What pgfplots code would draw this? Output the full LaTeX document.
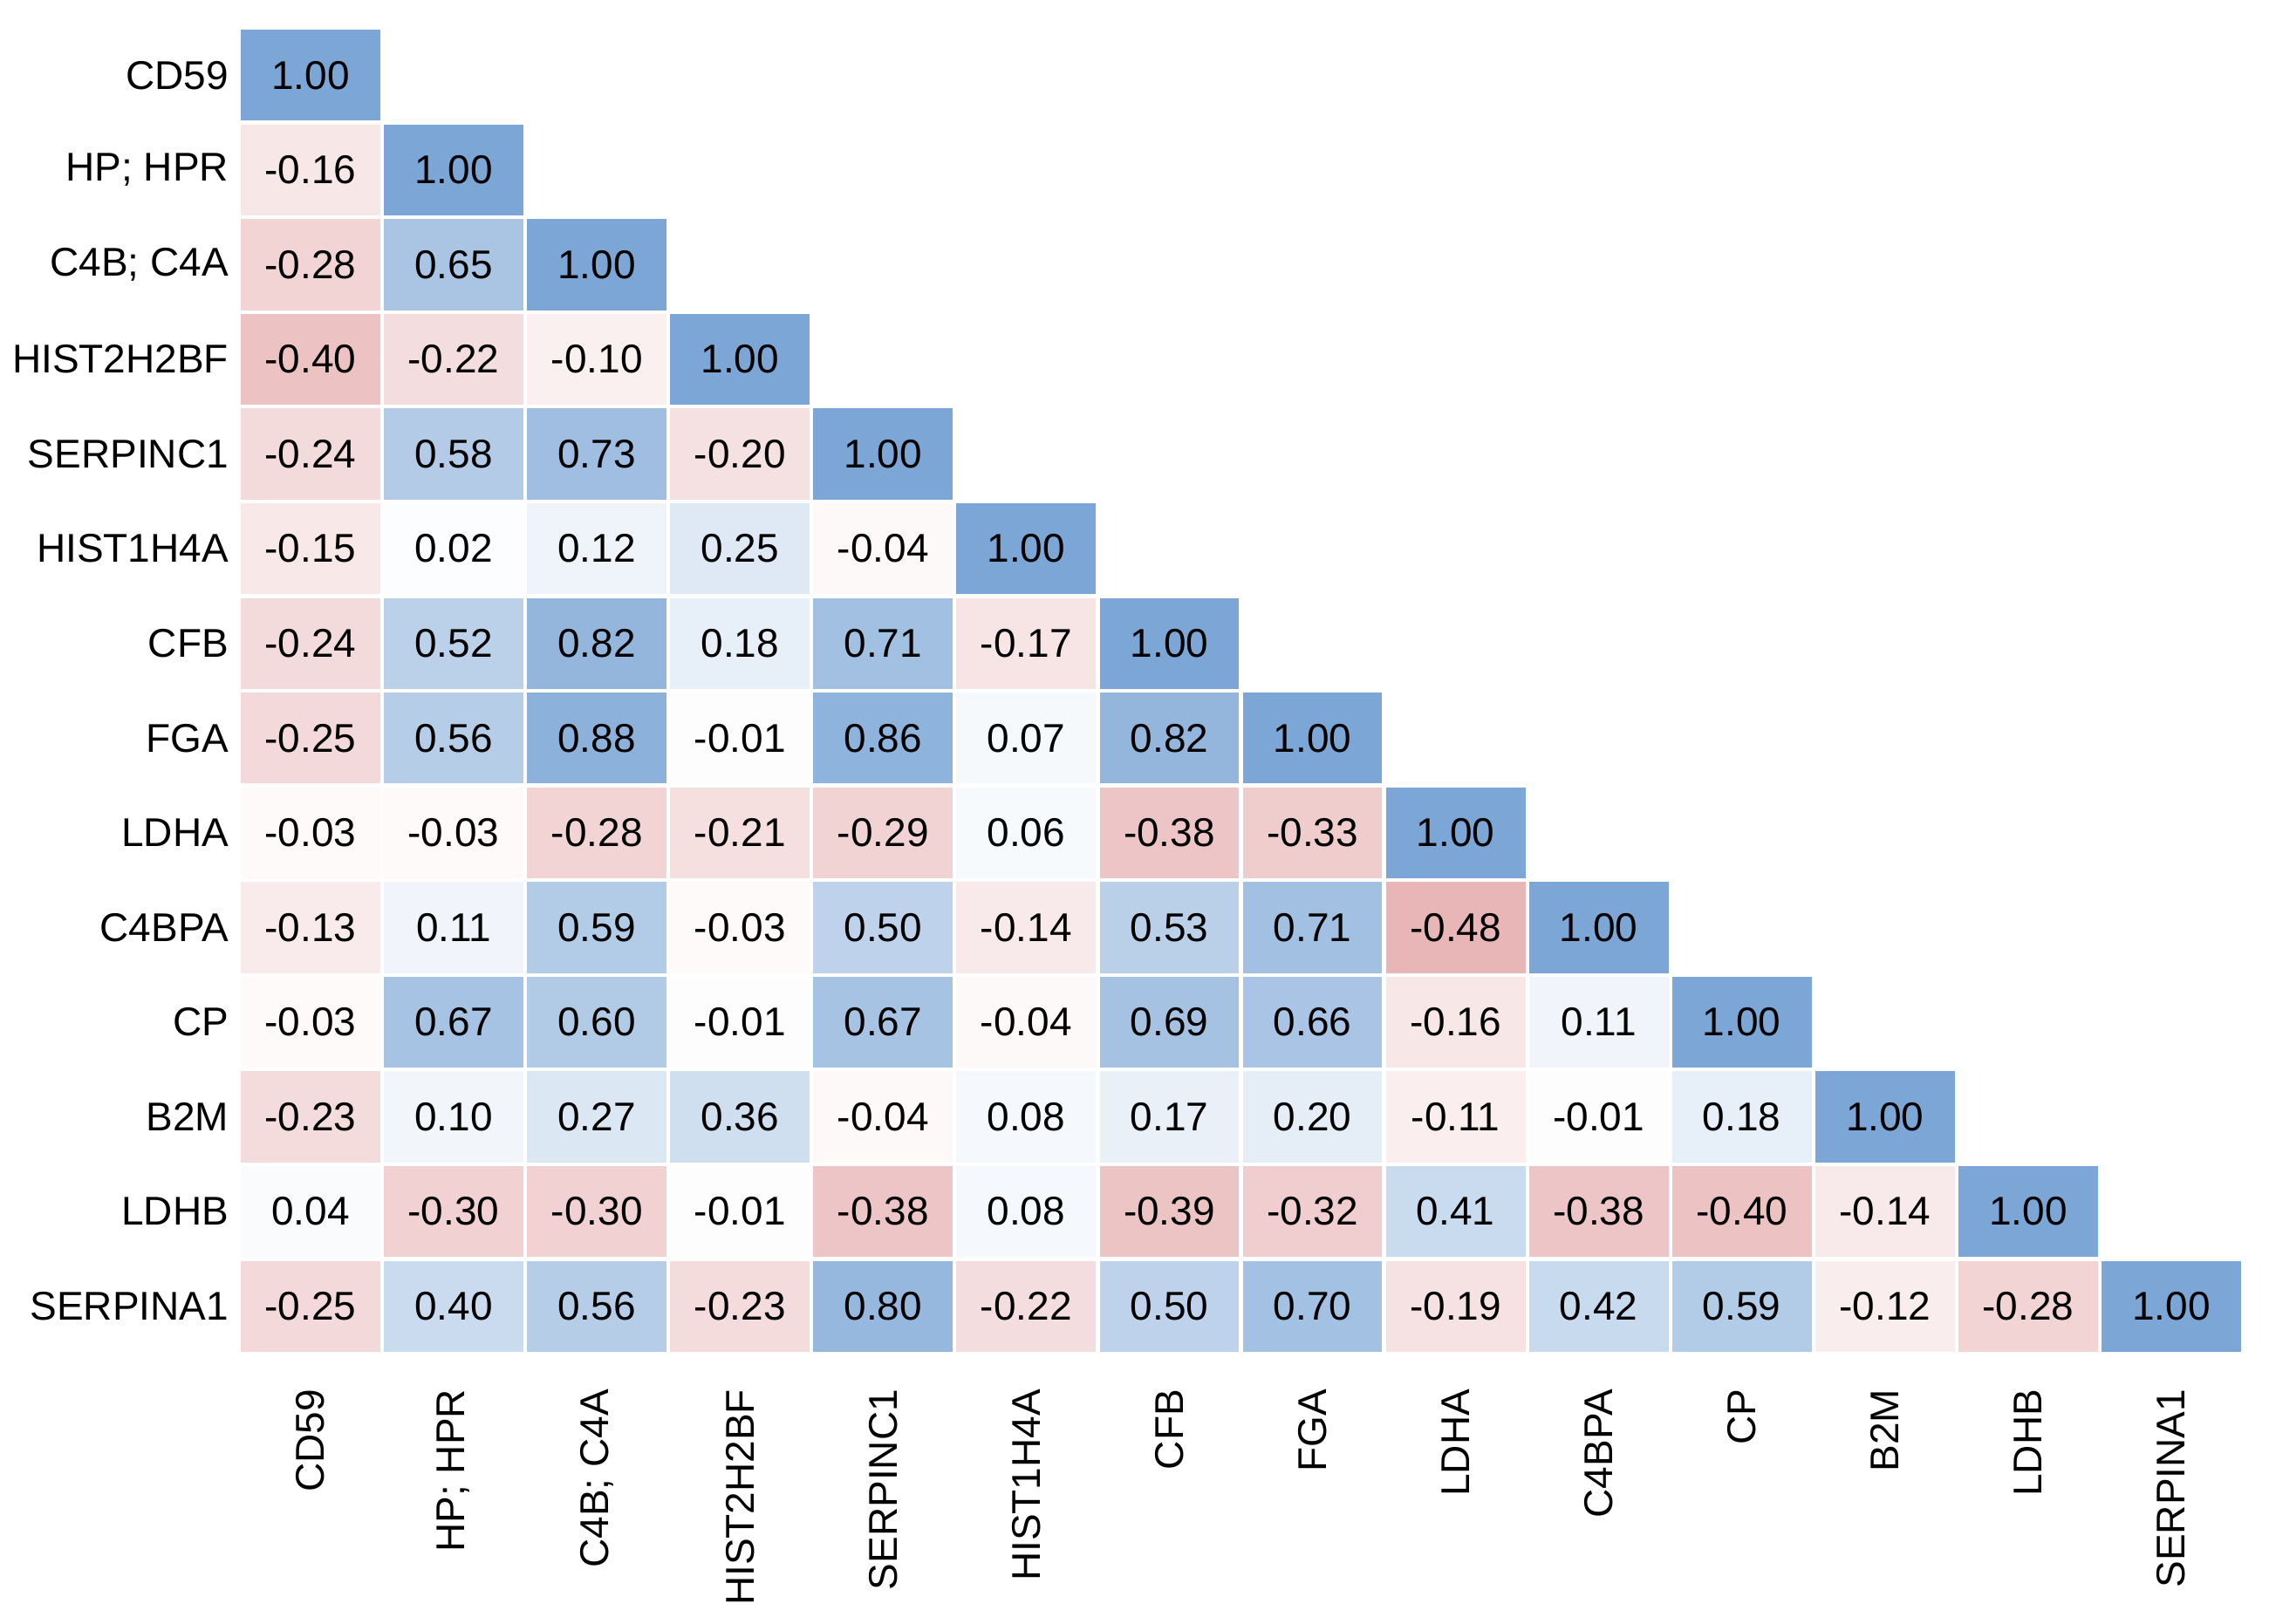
\documentclass[border=0pt]{standalone}
\usepackage{fontspec}
\setmainfont{Liberation Sans}
\usepackage{pgfplots}
\pgfplotsset{compat=1.18}
\usepackage{pgfplotstable}

% one heatmap cell, full cell size (axis 459.4pt x 304pt, 14 x 14 cells)
\pgfdeclareplotmark{cell}{%
  \pgfpathrectangle{\pgfpoint{-16.407pt}{-10.857pt}}{\pgfpoint{32.814pt}{21.714pt}}%
  \pgfusepathqfillstroke}

% lower triangle of the correlation matrix: column x, row y, value v
\pgfplotstableread[row sep=\\]{
x y v\\
0 0 1.00\\
0 1 -0.16\\ 1 1 1.00\\
0 2 -0.28\\ 1 2 0.65\\ 2 2 1.00\\
0 3 -0.40\\ 1 3 -0.22\\ 2 3 -0.10\\ 3 3 1.00\\
0 4 -0.24\\ 1 4 0.58\\ 2 4 0.73\\ 3 4 -0.20\\ 4 4 1.00\\
0 5 -0.15\\ 1 5 0.02\\ 2 5 0.12\\ 3 5 0.25\\ 4 5 -0.04\\ 5 5 1.00\\
0 6 -0.24\\ 1 6 0.52\\ 2 6 0.82\\ 3 6 0.18\\ 4 6 0.71\\ 5 6 -0.17\\ 6 6 1.00\\
0 7 -0.25\\ 1 7 0.56\\ 2 7 0.88\\ 3 7 -0.01\\ 4 7 0.86\\ 5 7 0.07\\ 6 7 0.82\\ 7 7 1.00\\
0 8 -0.03\\ 1 8 -0.03\\ 2 8 -0.28\\ 3 8 -0.21\\ 4 8 -0.29\\ 5 8 0.06\\ 6 8 -0.38\\ 7 8 -0.33\\ 8 8 1.00\\
0 9 -0.13\\ 1 9 0.11\\ 2 9 0.59\\ 3 9 -0.03\\ 4 9 0.50\\ 5 9 -0.14\\ 6 9 0.53\\ 7 9 0.71\\ 8 9 -0.48\\ 9 9 1.00\\
0 10 -0.03\\ 1 10 0.67\\ 2 10 0.60\\ 3 10 -0.01\\ 4 10 0.67\\ 5 10 -0.04\\ 6 10 0.69\\ 7 10 0.66\\ 8 10 -0.16\\ 9 10 0.11\\ 10 10 1.00\\
0 11 -0.23\\ 1 11 0.10\\ 2 11 0.27\\ 3 11 0.36\\ 4 11 -0.04\\ 5 11 0.08\\ 6 11 0.17\\ 7 11 0.20\\ 8 11 -0.11\\ 9 11 -0.01\\ 10 11 0.18\\ 11 11 1.00\\
0 12 0.04\\ 1 12 -0.30\\ 2 12 -0.30\\ 3 12 -0.01\\ 4 12 -0.38\\ 5 12 0.08\\ 6 12 -0.39\\ 7 12 -0.32\\ 8 12 0.41\\ 9 12 -0.38\\ 10 12 -0.40\\ 11 12 -0.14\\ 12 12 1.00\\
0 13 -0.25\\ 1 13 0.40\\ 2 13 0.56\\ 3 13 -0.23\\ 4 13 0.80\\ 5 13 -0.22\\ 6 13 0.50\\ 7 13 0.70\\ 8 13 -0.19\\ 9 13 0.42\\ 10 13 0.59\\ 11 13 -0.12\\ 12 13 -0.28\\ 13 13 1.00\\
}\cells

\begin{document}
\begin{tikzpicture}
\useasboundingbox (0,0) rectangle (520.2pt,372.4pt);
\begin{axis}[
  at={(54.8pt,62pt)}, anchor=south west,
  width=459.4pt, height=304pt, scale only axis,
  xmin=-0.5, xmax=13.5, ymin=-0.5, ymax=13.5,
  y dir=reverse,
  axis line style={draw=none},
  major tick length=0pt,
  xtick={0,...,13}, ytick={0,...,13},
  xticklabels={CD59,HP; HPR,C4B; C4A,HIST2H2BF,SERPINC1,HIST1H4A,CFB,FGA,LDHA,C4BPA,CP,B2M,LDHB,SERPINA1},
  yticklabels={CD59,HP; HPR,C4B; C4A,HIST2H2BF,SERPINC1,HIST1H4A,CFB,FGA,LDHA,C4BPA,CP,B2M,LDHB,SERPINA1},
  xticklabel style={rotate=90, anchor=east, inner sep=0pt},
  xticklabel shift=8pt,
  yticklabel style={inner sep=0pt},
  yticklabel shift=2.2pt,
  tick label style={font=\fontsize{9.2}{11}\selectfont},
  colormap={corr}{rgb255=(207,103,105) rgb255=(255,255,255) rgb255=(124,166,214)},
  point meta min=-1, point meta max=1,
  clip=false,
]
\addplot[scatter, only marks, mark=cell,
  scatter/use mapped color={draw=white, fill=mapped color},
  mark options={line width=0.85pt},
  point meta=explicit]
  table[x=x, y=y, meta=v] {\cells};
\addplot[draw=none, mark=none,
  point meta=explicit symbolic,
  nodes near coords={\pgfplotspointmeta},
  every node near coord/.append style={anchor=center, inner sep=0pt, text=black,
    font=\fontsize{9.2}{11}\selectfont}]
  table[x=x, y=y, meta=v] {\cells};
\end{axis}
\end{tikzpicture}
\end{document}
